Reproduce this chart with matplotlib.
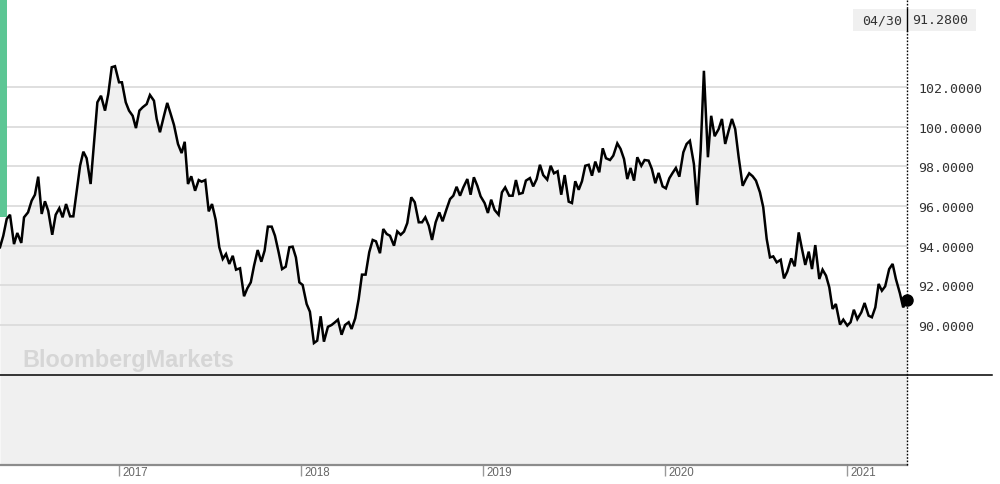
import matplotlib.pyplot as plt
from matplotlib.lines import Line2D
from matplotlib.patches import Rectangle
import matplotlib.transforms as mtransforms

# weekly index level, x as decimal year
dates = [2016.346, 2016.364, 2016.383, 2016.401, 2016.423, 2016.441, 2016.463, 2016.478, 2016.500, 2016.520,
         2016.538, 2016.556, 2016.575, 2016.593, 2016.611, 2016.633, 2016.652, 2016.672, 2016.690, 2016.709,
         2016.731, 2016.749, 2016.786, 2016.804, 2016.822, 2016.844, 2016.881, 2016.901, 2016.923, 2016.941,
         2016.960, 2016.978, 2017.000, 2017.016, 2017.037, 2017.055, 2017.075, 2017.093, 2017.112, 2017.130,
         2017.152, 2017.170, 2017.192, 2017.207, 2017.225, 2017.247, 2017.265, 2017.284, 2017.302, 2017.324,
         2017.344, 2017.361, 2017.379, 2017.397, 2017.418, 2017.438, 2017.454, 2017.474, 2017.493, 2017.511,
         2017.531, 2017.551, 2017.570, 2017.588, 2017.606, 2017.625, 2017.643, 2017.665, 2017.687, 2017.705,
         2017.724, 2017.742, 2017.762, 2017.782, 2017.800, 2017.818, 2017.839, 2017.857, 2017.877, 2017.896,
         2017.916, 2017.936, 2017.954, 2017.972, 2017.991, 2018.009, 2018.031, 2018.049, 2018.071, 2018.089,
         2018.108, 2018.126, 2018.148, 2018.168, 2018.187, 2018.203, 2018.223, 2018.242, 2018.262, 2018.278,
         2018.298, 2018.317, 2018.335, 2018.355, 2018.375, 2018.394, 2018.412, 2018.434, 2018.452, 2018.471,
         2018.489, 2018.511, 2018.529, 2018.548, 2018.566, 2018.584, 2018.606, 2018.625, 2018.647, 2018.665,
         2018.683, 2018.702, 2018.720, 2018.740, 2018.760, 2018.778, 2018.800, 2018.819, 2018.837, 2018.855,
         2018.874, 2018.892, 2018.914, 2018.932, 2018.950, 2018.969, 2018.987, 2019.009, 2019.027, 2019.045,
         2019.064, 2019.086, 2019.104, 2019.122, 2019.144, 2019.163, 2019.181, 2019.199, 2019.218, 2019.236,
         2019.258, 2019.276, 2019.295, 2019.313, 2019.331, 2019.353, 2019.372, 2019.390, 2019.410, 2019.430,
         2019.449, 2019.471, 2019.489, 2019.507, 2019.526, 2019.544, 2019.562, 2019.581, 2019.599, 2019.617,
         2019.639, 2019.658, 2019.676, 2019.698, 2019.716, 2019.738, 2019.756, 2019.775, 2019.793, 2019.811,
         2019.830, 2019.848, 2019.870, 2019.888, 2019.910, 2019.928, 2019.947, 2019.965, 2019.987, 2020.005,
         2020.024, 2020.042, 2020.060, 2020.079, 2020.101, 2020.119, 2020.137, 2020.159, 2020.177, 2020.196,
         2020.214, 2020.236, 2020.254, 2020.273, 2020.295, 2020.313, 2020.331, 2020.350, 2020.368, 2020.386,
         2020.405, 2020.427, 2020.445, 2020.463, 2020.482, 2020.500, 2020.522, 2020.540, 2020.559, 2020.577,
         2020.595, 2020.614, 2020.636, 2020.654, 2020.672, 2020.694, 2020.713, 2020.735, 2020.753, 2020.771,
         2020.790, 2020.808, 2020.826, 2020.848, 2020.866, 2020.885, 2020.903, 2020.921, 2020.939, 2020.962,
         2020.980, 2021.002, 2021.020, 2021.038, 2021.057, 2021.079, 2021.097, 2021.119, 2021.137, 2021.156,
         2021.174, 2021.192, 2021.210, 2021.232, 2021.251, 2021.269, 2021.291, 2021.309, 2021.330]

values = [93.92, 94.50, 95.35, 95.56, 94.08, 94.64, 94.14, 95.43, 95.68, 96.27,
          96.57, 97.48, 95.60, 96.24, 95.76, 94.55, 95.56, 95.89, 95.43, 96.10,
          95.48, 95.48, 98.03, 98.74, 98.41, 97.11, 101.23, 101.56, 100.81, 101.65,
          103.00, 103.05, 102.24, 102.24, 101.23, 100.81, 100.55, 99.93, 100.81, 100.98,
          101.14, 101.60, 101.31, 100.39, 99.72, 100.55, 101.20, 100.64, 100.09, 99.13,
          98.67, 99.24, 97.11, 97.50, 96.77, 97.31, 97.23, 97.31, 95.73, 96.10,
          95.31, 93.92, 93.33, 93.58, 93.08, 93.49, 92.79, 92.86, 91.45, 91.85,
          92.15, 92.99, 93.78, 93.19, 93.75, 94.96, 94.96, 94.50, 93.67, 92.82,
          92.94, 93.92, 93.95, 93.41, 92.15, 92.02, 91.06, 90.67, 89.09, 89.21,
          90.44, 89.16, 89.91, 90.00, 90.14, 90.27, 89.51, 90.00, 90.14, 89.80,
          90.34, 91.31, 92.54, 92.54, 93.67, 94.29, 94.22, 93.62, 94.84, 94.59,
          94.50, 94.00, 94.72, 94.55, 94.71, 95.14, 96.44, 96.19, 95.18, 95.18,
          95.43, 95.01, 94.29, 95.18, 95.68, 95.23, 95.85, 96.35, 96.52, 96.97,
          96.52, 96.94, 97.36, 96.57, 97.45, 97.02, 96.49, 96.15, 95.65, 96.32,
          95.80, 95.56, 96.69, 96.94, 96.52, 96.52, 97.31, 96.61, 96.66, 97.28,
          97.41, 96.99, 97.36, 98.08, 97.56, 97.33, 98.03, 97.65, 97.75, 96.57,
          97.56, 96.22, 96.15, 97.25, 96.82, 97.25, 98.03, 98.08, 97.53, 98.24,
          97.70, 98.91, 98.41, 98.32, 98.54, 99.16, 98.88, 98.37, 97.36, 97.92,
          97.28, 98.46, 98.03, 98.32, 98.29, 97.87, 97.15, 97.67, 96.99, 96.89,
          97.40, 97.67, 97.92, 97.48, 98.71, 99.13, 99.29, 98.12, 96.05, 98.79,
          102.82, 98.46, 100.55, 99.52, 99.88, 100.39, 99.13, 99.80, 100.39, 99.88,
          98.46, 97.02, 97.36, 97.65, 97.50, 97.28, 96.69, 95.94, 94.34, 93.41,
          93.46, 93.16, 93.29, 92.35, 92.69, 93.36, 92.96, 94.67, 93.83, 93.03,
          93.70, 92.82, 94.03, 92.32, 92.79, 92.49, 91.90, 90.81, 91.06, 90.02,
          90.27, 89.97, 90.14, 90.77, 90.30, 90.64, 91.11, 90.47, 90.39, 90.89,
          92.07, 91.73, 91.95, 92.82, 93.08, 92.32, 91.60, 90.89, 91.28]

year_ticks = [2017, 2018, 2019, 2020, 2021]
y_ticks = [90, 92, 94, 96, 98, 100, 102]
last_label = "04/30"
last_value = "91.2800"

W, H = 1000, 485
fig = plt.figure(figsize=(W / 100, H / 100), dpi=100)
fig.patch.set_facecolor('white')

ax = fig.add_axes([0, (H - 466) / H, 907 / W, 466 / H])
ymin, ymax = 82.94, 106.44
ax.set_xlim(dates[0], dates[-1])
ax.set_ylim(ymin, ymax)
ax.set_facecolor('white')

ax.fill_between(dates, values, ymin, color='#f0f0f0', lw=0, zorder=1)
for v in y_ticks:
    ax.axhline(v, color='#dcdcdc', lw=1.3, zorder=2)
ax.plot(dates, values, color='black', lw=1.8, zorder=4, solid_joinstyle='miter')
ax.plot(dates[-1], values[-1], 'o', color='black', ms=8, zorder=5, clip_on=False)

# green strip at the left edge
ax.fill_between([dates[0], dates[0] + 7 / 182], 95.45, ymax, color='#5cc694', lw=0, zorder=3)

ax.axvline(dates[-1], color='black', lw=1, ls=(0, (1.2, 1.2)), zorder=6, clip_on=False)

for s in ['top', 'left', 'right']:
    ax.spines[s].set_visible(False)
ax.spines['bottom'].set_color('#8c8c8c')
ax.spines['bottom'].set_linewidth(1.6)

ax.yaxis.tick_right()
ax.set_yticks(y_ticks)
ax.set_yticklabels(['%.4f' % v for v in y_ticks], family='DejaVu Sans Mono', fontsize=9.5, color='#333333')
ax.tick_params(axis='y', length=0, pad=8)

ax.set_xticks(year_ticks)
ax.set_xticklabels([str(y) for y in year_ticks], fontsize=8.3, color='#666666', family='Liberation Sans')
ax.tick_params(axis='x', direction='out', length=8, width=1, color='#999999', pad=-7.5)
offs = mtransforms.ScaledTranslation(3 / 100, 0, fig.dpi_scale_trans)
for lab in ax.get_xticklabels():
    lab.set_horizontalalignment('left')
    lab.set_transform(lab.get_transform() + offs)

# watermark
wm_y = 90 + (326 - 360) / 19.83
ax.text(22 / 907, (wm_y - ymin) / (ymax - ymin), 'BloombergMarkets',
        transform=ax.transAxes, fontsize=16.8, fontweight='bold', color='#d6d6d6',
        family='Liberation Sans', va='center', ha='left', zorder=3)

# separator between panels
fig.add_artist(Line2D([0, 992 / W], [1 - 376 / H] * 2, color='black', lw=1.1))

# last value box at top
fig.add_artist(Rectangle((853 / W, 1 - 32 / H), 123 / W, 22 / H, color='#f0f0f0', lw=0))
fig.add_artist(Line2D([907 / W] * 2, [1 - 32 / H, 1 - 10 / H], color='black', lw=1))
fig.text(902 / W, 1 - 21 / H, last_label, ha='right', va='center', family='DejaVu Sans Mono',
         fontsize=9.5, color='#333333')
fig.text(912 / W, 1 - 21 / H, last_value, ha='left', va='center', family='DejaVu Sans Mono',
         fontsize=9.5, color='#333333')

fig.savefig('out.png', dpi=100)
